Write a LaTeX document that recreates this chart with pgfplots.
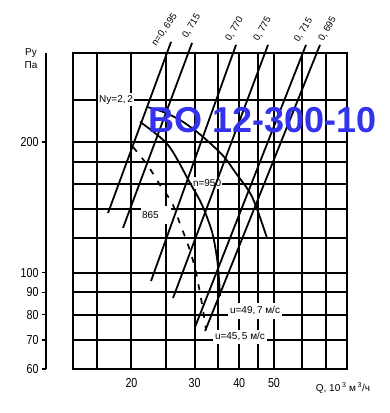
\documentclass[border=0pt]{standalone}
\usepackage{fontspec}
\setmainfont{Liberation Sans}
\usepackage{graphicx}
\usepackage{pgfplots}
\pgfplotsset{compat=1.18}
\definecolor{wm}{RGB}{51,51,238}
\newcommand{\hs}[1]{\scalebox{0.82}[1]{#1}}
\begin{document}
\begin{tikzpicture}
\useasboundingbox (0pt,0pt) rectangle (389pt,413pt);
\begin{axis}[
  at={(73pt,44pt)}, anchor=south west,
  scale only axis, width=274pt, height=316pt,
  xmode=log, ymode=log,
  xmin=13.73, xmax=80, ymin=60, ymax=320,
  xtick={16,20,25,30,35,40,45,50,60,70},
  xticklabels={,\hs{20},,\hs{30},,\hs{40},,\hs{50},,},
  ytick={70,80,90,100,120,140,160,180,200,250},
  yticklabels={,,,,,,,,,},
  axis line style={black, line width=2pt},
  major tick length=0pt,
  xticklabel style={font=\fontsize{13}{13}\selectfont, yshift=-6pt},
  clip=false,
]
% grid
\pgfplotsinvokeforeach{16,20,25,30,35,40,45,50,60,70}{
  \draw[black, line width=2pt] (axis cs:#1,60) -- (axis cs:#1,320);
}
\pgfplotsinvokeforeach{70,80,90,100,120,140,160,180,200,250}{
  \draw[black, line width=2pt] (axis cs:13.73,#1) -- (axis cs:80,#1);
}
% label boxes (under the curves, over the grid)
\node[fill=white, inner sep=1pt, minimum width=34pt, minimum height=13pt, font=\fontsize{10}{10}\selectfont] at (axis cs:18.11,250) {Ny=2,\,2};
\node[fill=white, inner sep=1pt, minimum height=12pt, font=\fontsize{10}{10}\selectfont] at (axis cs:32.52,160.7) {n=950};
\node[fill=white, inner sep=1pt, text width=28pt, align=left, minimum height=18pt, font=\fontsize{10}{10}\selectfont] at (axis cs:23.42,135.7) {865};
\node[fill=white, inner sep=2pt, minimum height=16pt, font=\fontsize{10}{10}\selectfont] at (axis cs:44.28,81.58) {u=49,\,7 м/с};
\node[fill=white, inner sep=2pt, minimum height=14pt, font=\fontsize{10}{10}\selectfont] at (axis cs:40.2,71.1) {u=45,\,5 м/с};
% blade-angle characteristic lines
\addplot[black, line width=1.8pt] coordinates {(25.80,339.4) (17.20,137.1)};
\addplot[black, line width=1.8pt] coordinates {(29.53,337.5) (18.94,126.7)};
\addplot[black, line width=1.8pt] coordinates {(39.19,334.0) (22.68,95.65)};
\addplot[black, line width=1.8pt] coordinates {(48.13,334.0) (26.13,87.41)};
\addplot[black, line width=1.8pt] coordinates {(61.46,334.0) (30.10,74.96)};
\addplot[black, line width=1.8pt] coordinates {(67.25,334.0) (32.11,73.39)};
% n = 950
\addplot[black, line width=1.8pt, smooth] coordinates {(21.13,222.1) (25.30,196.6) (29.15,160.7) (31.49,143.1) (33.58,124.0) (34.67,108.0) (35.13,96.15) (35.35,88.33)};
% Ny = 2,2
\addplot[black, line width=1.8pt, smooth] coordinates {(22.11,240.4) (24.50,234.2) (27.33,224.4) (30.49,210.6) (33.58,196.6) (36.51,183.5) (38.94,170.4) (42.88,152.5) (45.14,137.9) (47.83,120.1)};
% n = 865 (dashed)
\addplot[black, line width=1.7pt, smooth, dash pattern=on 6pt off 8pt] coordinates {(20.20,194.5) (22.25,175.9) (24.03,159.0) (25.96,144.6) (27.33,129.4) (28.78,115.8) (30.10,102.5) (30.89,92.16) (31.69,82.02) (32.31,73.77)};
\end{axis}
% separate left pressure scale
\begin{axis}[
  at={(46pt,44pt)}, anchor=south west,
  scale only axis, width=10pt, height=316pt,
  ymode=log, ymin=60, ymax=320, xmin=0, xmax=1,
  hide x axis, axis y line*=left,
  ytick={60,70,80,90,100,200},
  yticklabels={\hs{60},\hs{70},\hs{80},\hs{90},\hs{100},\hs{200}},
  tick align=outside, major tick length=4pt,
  y axis line style={line width=1.8pt, -},
  tick style={line width=1.6pt, black},
  yticklabel style={font=\fontsize{13}{13}\selectfont},
]
\addplot[draw=none] coordinates {(0,100)};
\end{axis}
\node[font=\fontsize{10}{10}\selectfont] at (31pt,360pt) {Py};
\node[font=\fontsize{10}{10}\selectfont] at (31pt,348pt) {Па};
\node[font=\fontsize{10}{10}\selectfont] at (343pt,25pt) {Q, 10\,\textsuperscript{3} м\,\textsuperscript{3}/ч};
\begin{scope}[every node/.style={font=\fontsize{9.5}{9.5}\selectfont, inner sep=0pt}]
\node[rotate=55] at (164.5pt,383pt) {n=0, 695};
\node[rotate=59] at (191.5pt,387pt) {0, 715};
\node[rotate=61] at (234.5pt,384pt) {0, 770};
\node[rotate=61] at (262.5pt,384pt) {0, 775};
\node[rotate=58] at (303.5pt,383pt) {0, 715};
\node[rotate=61] at (327.5pt,384pt) {0, 695};
\end{scope}
\node[anchor=base west, inner sep=0pt, text=wm, font=\fontsize{36}{36}\selectfont\bfseries] at (148pt,280pt) {BO 12-300-10};
\end{tikzpicture}
\end{document}
